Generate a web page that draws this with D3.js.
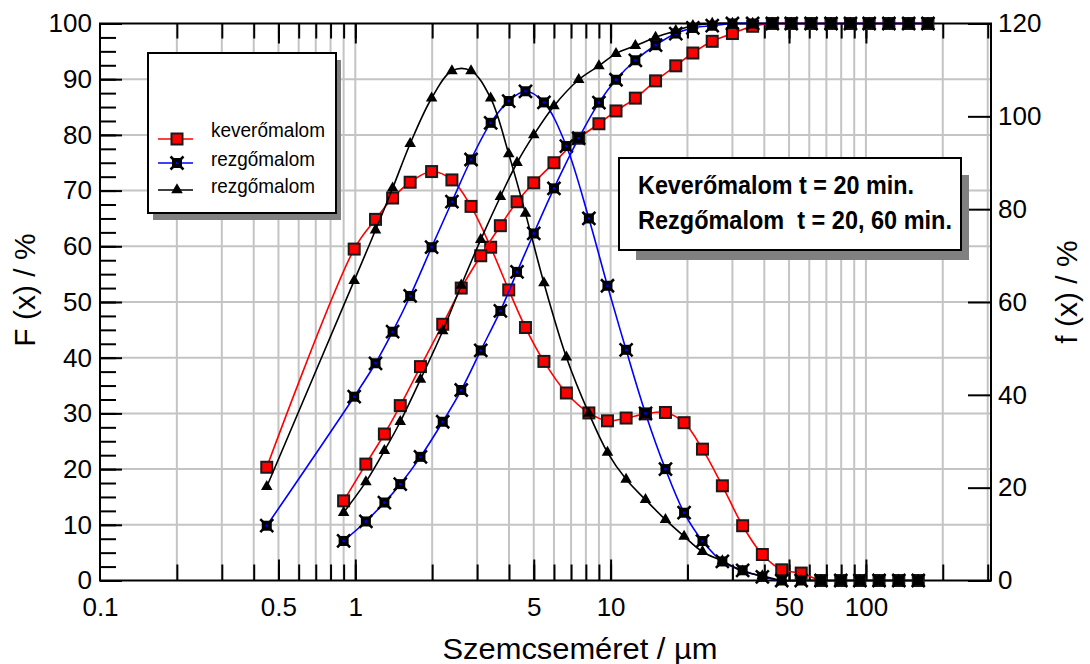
<!DOCTYPE html>
<html>
<head>
<meta charset="utf-8">
<script src="https://cdn.jsdelivr.net/npm/d3@7"></script>
<style>
  html, body { margin: 0; padding: 0; background: #fff; }
  svg text { font-family: "Liberation Sans", Arial, sans-serif; }
</style>
</head>
<body>
<div id="chart"></div>
<script>
// ─── data ───────────────────────────────────────────────────────────────────

// upper class bounds (µm) -> cumulative curves F(x)
const sizeBounds = [0.9, 1.1, 1.3, 1.5, 1.8, 2.2, 2.6, 3.1, 3.7, 4.3, 5.0, 6.0, 7.5, 9.0, 10.5,
    12.5, 15, 18, 21, 25, 30, 36, 43, 51, 61, 73, 87, 103, 123, 147, 175];
// class mid points (µm) -> density curves f(x)
const sizeMids = [0.45, 0.99, 1.2, 1.4, 1.64, 1.99, 2.39, 2.84, 3.39, 3.99, 4.64, 5.48, 6.71, 8.22, 9.72,
    11.5, 13.7, 16.4, 19.4, 22.9, 27.4, 32.9, 39.3, 46.8, 55.8, 66.7, 79.7, 94.7, 112.6, 134.5, 160.4];

// F(x) / %  (left axis)
const keverCum = [14.3, 20.9, 26.3, 31.4, 38.4, 46.0, 52.5, 58.3, 63.7, 68.0, 71.4, 75.0, 79.4, 82.0, 84.3,
    86.6, 89.7, 92.4, 94.7, 96.8, 98.2, 99.5, 100, 100, 100, 100, 100, 100, 100, 100, 100];
const rezg20Cum = [7.1, 10.6, 14.0, 17.3, 22.2, 28.5, 34.2, 41.3, 48.4, 55.4, 62.3, 70.4, 79.4, 85.8, 89.9,
    93.4, 96.1, 98.2, 99.2, 99.6, 100, 100, 100, 100, 100, 100, 100, 100, 100, 100, 100];
const rezg60Cum = [12.2, 17.7, 23.3, 28.5, 36.1, 44.8, 53.0, 61.2, 68.9, 75.0, 80.0, 85.2, 89.9, 92.4, 94.6,
    96.0, 97.5, 98.7, 99.6, 100, 100, 100, 100, 100, 100, 100, 100, 100, 100, 100, 100];

// f(x) / %  (right axis)
const keverDens = [24.4, 71.4, 77.8, 82.4, 85.8, 88.1, 86.3, 80.6, 71.8, 62.6, 54.5, 47.2, 40.4, 36.1, 34.4,
    35.0, 35.9, 36.2, 34.0, 28.3, 20.4, 11.8, 5.6, 2.3, 1.6, 0, 0, 0, 0, 0, 0];
const rezg20Dens = [11.8, 39.6, 46.8, 53.6, 61.3, 71.8, 81.6, 90.7, 98.6, 103.3, 105.4, 103.0, 93.6, 78.0, 63.5,
    49.7, 36.0, 24.0, 14.6, 8.5, 4.1, 2.2, 0.8, 0, 0, 0, 0, 0, 0, 0, 0];
const rezg60Dens = [20.2, 64.6, 75.5, 84.5, 94.1, 103.9, 109.8, 109.8, 103.9, 91.9, 79.1, 64.1, 48.1, 36.0, 27.6,
    21.8, 17.4, 13.1, 9.5, 6.2, 4.2, 2.0, 1.0, 0, 0, 0, 0, 0, 0, 0, 0];

const xLabelTicks = [0.1, 0.5, 1, 5, 10, 50, 100];
const legendLabels = ["keverőmalom", "rezgőmalom", "rezgőmalom"];
const infoLines = ["Keverőmalom t = 20 min.", "Rezgőmalom  t = 20, 60 min."];

// ─── layout ──────────────────────────────────────────────────────────────────

const W = 1090, H = 664;
const L = 100, R = 991, T = 23.5, B = 580.5;
const GRID = "#c4c4c4";

const svg = d3.select("#chart").append("svg")
    .attr("width", W).attr("height", H);

const x = d3.scaleLog().domain([0.1, 309]).range([L, R]);
const yL = d3.scaleLinear().domain([0, 100]).range([B, T]);
const yR = d3.scaleLinear().domain([0, 120]).range([B, T]);

// every 1..9 × decade inside the domain
const minorX = [];
[0.1, 1, 10, 100].forEach(d => {
    for (let k = 1; k <= 9; k++) {
        const v = +(k * d).toPrecision(3);
        if (v > 0.1 && v < 309) minorX.push(v);
    }
});
const majorX = [0.5, 1, 5, 10, 50, 100];

// grid
const grid = svg.append("g");
grid.selectAll(".gx").data(minorX).join("line")
    .attr("x1", d => x(d)).attr("x2", d => x(d))
    .attr("y1", T).attr("y2", B)
    .attr("stroke", GRID).attr("stroke-width", 2);
grid.selectAll(".gy").data(d3.range(10, 100, 10)).join("line")
    .attr("x1", L).attr("x2", R)
    .attr("y1", d => yL(d)).attr("y2", d => yL(d))
    .attr("stroke", GRID).attr("stroke-width", 2);

// ─── axes (ticks point inward) ───────────────────────────────────────────────

function styleAxis(g, size) {
    g.select(".domain").remove();
    g.selectAll("line").attr("stroke", "#000").attr("stroke-width", 2);
    g.selectAll("text").attr("fill", "#000").style("font-size", size + "px");
}

const axes = svg.append("g");
axes.append("g").attr("transform", `translate(0,${B})`)
    .call(d3.axisBottom(x).tickValues(minorX).tickSize(-16).tickFormat(""))
    .call(styleAxis, 26);
axes.append("g").attr("transform", `translate(0,${B})`)
    .call(d3.axisBottom(x).tickValues(majorX).tickSize(-21).tickFormat(""))
    .call(styleAxis, 26);
axes.append("g").attr("transform", `translate(0,${B})`)
    .call(d3.axisBottom(x).tickValues(xLabelTicks).tickSize(0).tickPadding(17)
        .tickFormat(d => String(d)))
    .call(styleAxis, 26);

axes.append("g").attr("transform", `translate(0,${T})`)
    .call(d3.axisTop(x).tickValues(minorX).tickSize(-15).tickFormat(""))
    .call(styleAxis, 26);
axes.append("g").attr("transform", `translate(0,${T})`)
    .call(d3.axisTop(x).tickValues(majorX).tickSize(-20).tickFormat(""))
    .call(styleAxis, 26);

axes.append("g").attr("transform", `translate(${L},0)`)
    .call(d3.axisLeft(yL).tickValues(d3.range(2.5, 100, 2.5)).tickSize(-16).tickFormat(""))
    .call(styleAxis, 26);
axes.append("g").attr("transform", `translate(${L},0)`)
    .call(d3.axisLeft(yL).tickValues(d3.range(0, 101, 10)).tickSize(-22).tickPadding(8)
        .tickFormat(d3.format("d")))
    .call(styleAxis, 26);

axes.append("g").attr("transform", `translate(${R},0)`)
    .call(d3.axisRight(yR).tickValues(d3.range(0, 121, 20)).tickSize(-23).tickPadding(7)
        .tickFormat(d3.format("d")))
    .call(styleAxis, 26);

// frame
svg.append("rect")
    .attr("x", L).attr("y", T).attr("width", R - L).attr("height", B - T)
    .attr("fill", "none").attr("stroke", "#000").attr("stroke-width", 2);

// axis titles
svg.append("text").attr("transform", `translate(35,290) rotate(-90)`)
    .attr("text-anchor", "middle").style("font-size", "30px").text("F (x) / %");
svg.append("text").attr("transform", `translate(1077,292) rotate(-90)`)
    .attr("text-anchor", "middle").style("font-size", "30px").text("f (x) / %");
svg.append("text").attr("x", 580).attr("y", 659)
    .attr("text-anchor", "middle").style("font-size", "29px")
    .attr("textLength", 275).attr("lengthAdjust", "spacingAndGlyphs")
    .text("Szemcseméret / µm");

// ─── curves and markers ──────────────────────────────────────────────────────

function markerRed(sel) {
    sel.append("rect").attr("x", -5.5).attr("y", -5.5).attr("width", 11).attr("height", 11)
        .attr("fill", "#ff0000").attr("stroke", "#1a1a1a").attr("stroke-width", 2);
}
function markerBlue(sel) {
    sel.append("path").attr("d", "M-6.5,-6.5L6.5,6.5M-6.5,6.5L6.5,-6.5")
        .attr("stroke", "#000").attr("stroke-width", 2.5);
    sel.append("rect").attr("x", -5).attr("y", -5).attr("width", 10).attr("height", 10)
        .attr("fill", "#000");
    sel.append("rect").attr("x", -1.2).attr("y", -1.2).attr("width", 2.4).attr("height", 2.4)
        .attr("fill", "#0000ff");
}
function markerTri(sel) {
    sel.append("path").attr("d", d3.symbol(d3.symbolTriangle, 58)()).attr("fill", "#000");
}

function drawSeries(xs, ys, yScale, color, marker) {
    const pts = xs.map((v, i) => [x(v), yScale(ys[i])]);
    const g = svg.append("g");
    g.append("path")
        .attr("d", d3.line().curve(d3.curveCatmullRom.alpha(0.5))(pts))
        .attr("fill", "none").attr("stroke", color).attr("stroke-width", 1.6);
    g.selectAll("g.m").data(pts).join("g")
        .attr("transform", d => `translate(${d[0]},${d[1]})`)
        .each(function () { marker(d3.select(this)); });
}

drawSeries(sizeMids, keverDens, yR, "#ff0000", markerRed);
drawSeries(sizeBounds, keverCum, yL, "#ff0000", markerRed);
drawSeries(sizeMids, rezg20Dens, yR, "#0000ff", markerBlue);
drawSeries(sizeBounds, rezg20Cum, yL, "#0000ff", markerBlue);
drawSeries(sizeMids, rezg60Dens, yR, "#000000", markerTri);
drawSeries(sizeBounds, rezg60Cum, yL, "#000000", markerTri);

// ─── legend ──────────────────────────────────────────────────────────────────

const leg = svg.append("g");
leg.append("rect").attr("x", 153).attr("y", 60).attr("width", 188).attr("height", 160).attr("fill", "#808080");
leg.append("rect").attr("x", 148).attr("y", 53).attr("width", 188).attr("height", 160)
    .attr("fill", "#fff").attr("stroke", "#000").attr("stroke-width", 2);

const legStyles = [
    { color: "#ff0000", marker: markerRed, y: 139 },
    { color: "#0000ff", marker: markerBlue, y: 163 },
    { color: "#000000", marker: markerTri, y: 190 }
];
const legTextY = [137, 166, 193];
const legTextW = [114, 104, 104];
legStyles.forEach((s, i) => {
    leg.append("line").attr("x1", 158).attr("x2", 193).attr("y1", s.y).attr("y2", s.y)
        .attr("stroke", s.color).attr("stroke-width", 1.6);
    s.marker(leg.append("g").attr("transform", `translate(177,${s.y})`));
    leg.append("text").attr("x", 211).attr("y", legTextY[i])
        .style("font-size", "21px")
        .attr("textLength", legTextW[i]).attr("lengthAdjust", "spacingAndGlyphs")
        .text(legendLabels[i]);
});

// ─── info box ────────────────────────────────────────────────────────────────

const info = svg.append("g");
info.append("rect").attr("x", 636).attr("y", 175).attr("width", 333).attr("height", 85).attr("fill", "#808080");
info.append("rect").attr("x", 619).attr("y", 158).attr("width", 342).attr("height", 92)
    .attr("fill", "#fff").attr("stroke", "#000").attr("stroke-width", 2);
const infoY = [194, 229];
const infoW = [276, 314];
infoLines.forEach((t, i) => {
    info.append("text").attr("x", 638).attr("y", infoY[i])
        .style("font-size", "25px").style("font-weight", "bold").style("white-space", "pre")
        .attr("textLength", infoW[i]).attr("lengthAdjust", "spacingAndGlyphs")
        .text(t);
});
</script>
</body>
</html>
